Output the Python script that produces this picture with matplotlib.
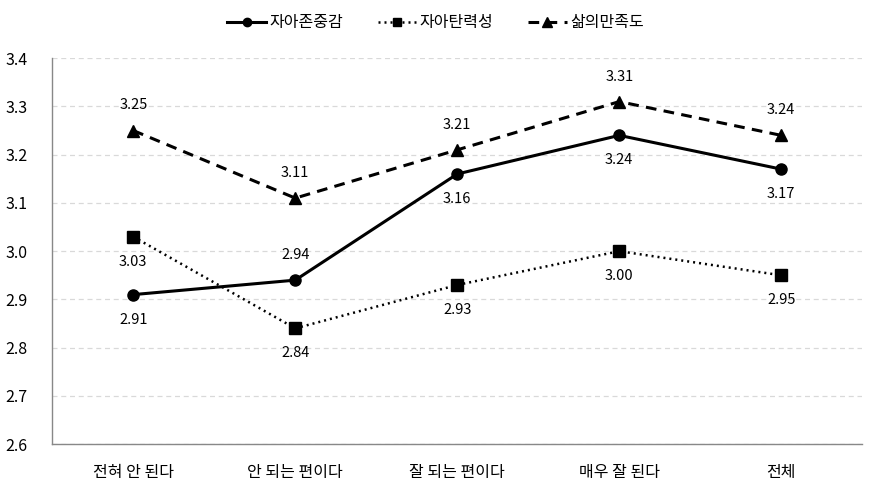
import matplotlib
matplotlib.use("Agg")
import matplotlib.pyplot as plt

plt.rcParams['font.family'] = ['Noto Sans CJK KR', 'DejaVu Sans']

categories = ['전혀 안 된다', '안 되는 편이다', '잘 되는 편이다', '매우 잘 된다', '전체']
self_esteem = [2.91, 2.94, 3.16, 3.24, 3.17]
resilience = [3.03, 2.84, 2.93, 3.00, 2.95]
life_sat = [3.25, 3.11, 3.21, 3.31, 3.24]
series_names = ['자아존중감', '자아탄력성', '삶의만족도']
yticks = [2.6, 2.7, 2.8, 2.9, 3.0, 3.1, 3.2, 3.3, 3.4]

fig = plt.figure(figsize=(8.71, 4.93), dpi=100)
ax = fig.add_axes([0.06, 0.099, 0.93, 0.783])

x = list(range(len(categories)))
ax.plot(x, self_esteem, color='black', lw=2.2, ls='-', marker='o', ms=8, label=series_names[0])
ax.plot(x, resilience, color='black', lw=1.8, ls=(0, (0.8, 1.6)), marker='s', ms=8, label=series_names[1])
ax.plot(x, life_sat, color='black', lw=2.2, ls=(0, (3.5, 2.4)), marker='^', ms=9, label=series_names[2])

fs = 10.5
off = 0.052
for i, v in enumerate(self_esteem):
    yy = v + off if i == 1 else v - off
    ax.text(i, yy, f'{v:.2f}', ha='center', va='center', fontsize=fs)
for i, v in enumerate(resilience):
    ax.text(i, v - off, f'{v:.2f}', ha='center', va='center', fontsize=fs)
for i, v in enumerate(life_sat):
    ax.text(i, v + off, f'{v:.2f}', ha='center', va='center', fontsize=fs)

ax.set_xlim(-0.5, len(categories) - 0.5)
ax.set_ylim(2.6, 3.4)
ax.set_yticks(yticks)
ax.set_yticklabels([f'{t:.1f}' for t in yticks], fontsize=11.5)
ax.set_xticks(x)
ax.set_xticklabels(categories, fontsize=11.5)
ax.tick_params(axis='both', length=0)
ax.tick_params(axis='y', pad=18)
ax.tick_params(axis='x', pad=14)
ax.grid(axis='y', color='#d9d9d9', ls=(0, (4, 3)), lw=0.9)
ax.set_axisbelow(True)
for s in ['top', 'right']:
    ax.spines[s].set_visible(False)
for s in ['left', 'bottom']:
    ax.spines[s].set_color('#888888')
    ax.spines[s].set_linewidth(1.0)

fig.legend(loc='upper center', bbox_to_anchor=(0.5, 1.0), ncol=3, frameon=False,
           fontsize=11.5, handlelength=2.4, handletextpad=0.2, columnspacing=2.2,
           markerscale=0.75)

fig.savefig('out.png', dpi=100)
